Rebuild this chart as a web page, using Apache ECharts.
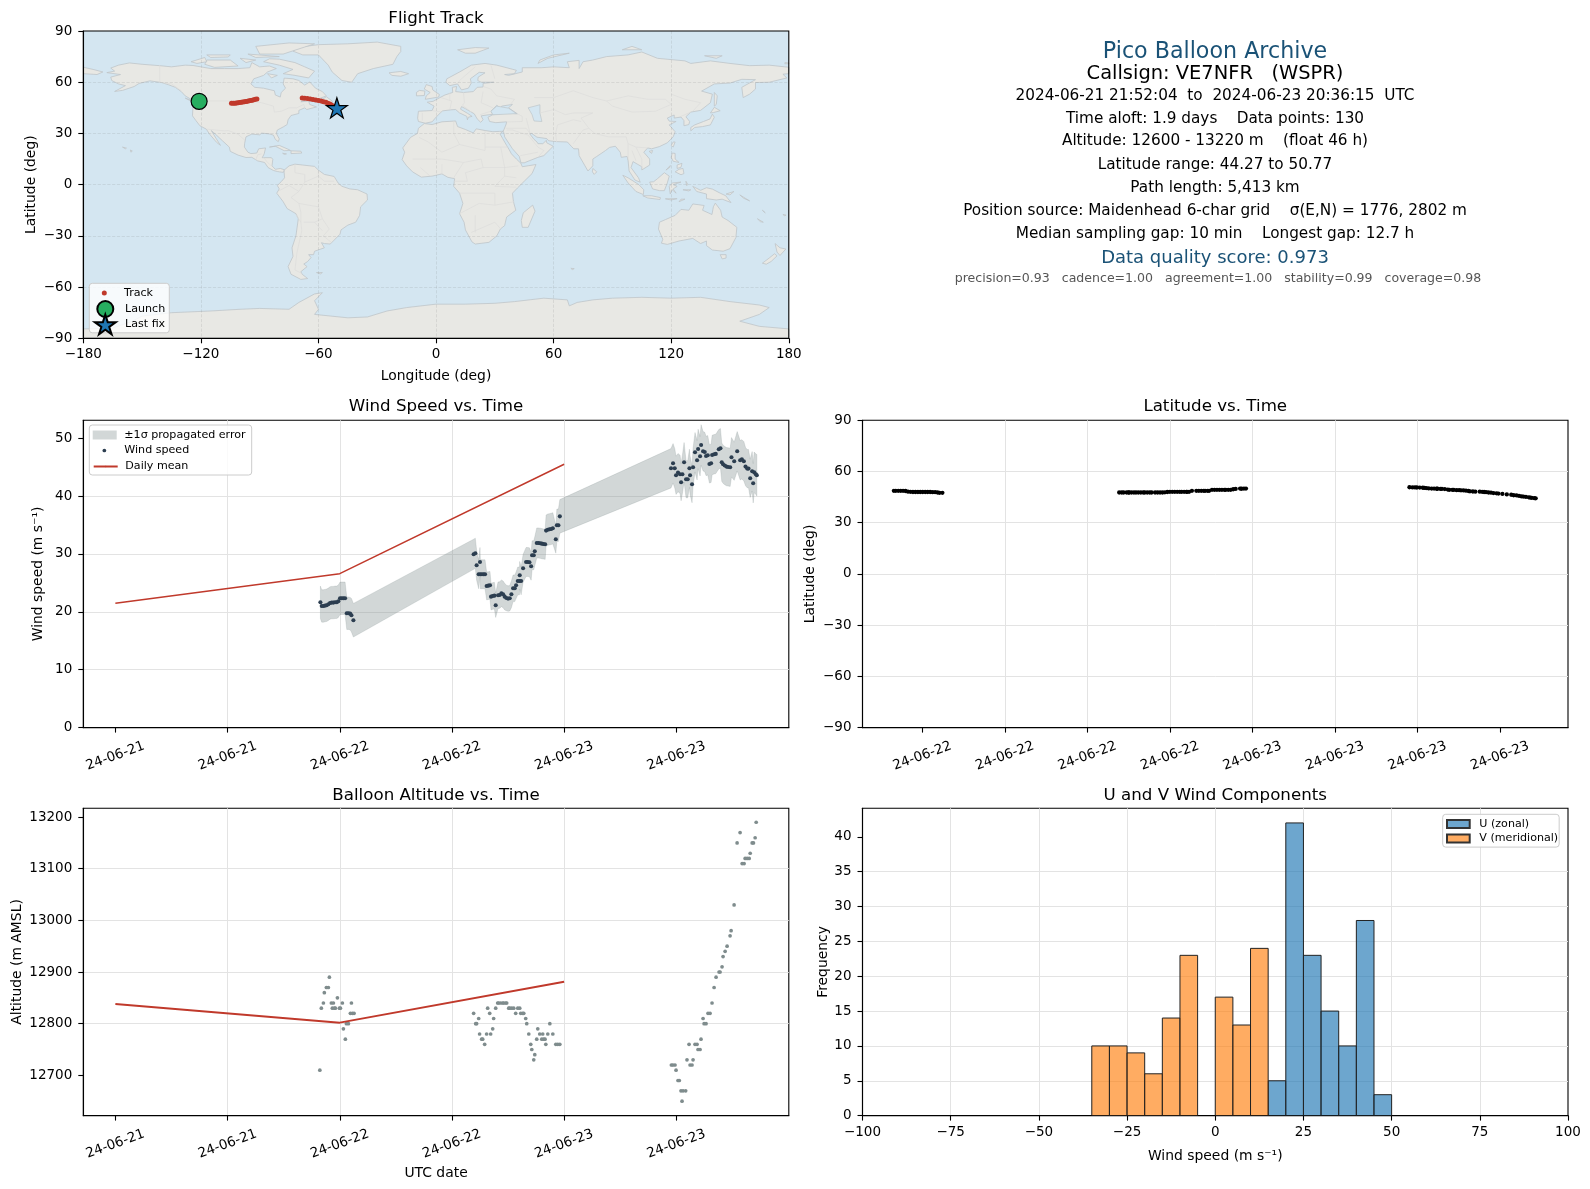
<!DOCTYPE html>
<html><head><meta charset="utf-8">
<style>html,body{margin:0;padding:0;background:#fff}#c{width:1590px;height:1189px}</style>
<script src="https://cdn.jsdelivr.net/npm/echarts@6/dist/echarts.min.js"></script>
</head><body><div id="c"></div>
<script>
// ---------- tick labels ----------
const windTickHours = [0,12,24,36,48,60];
const windTickLabels = ["24-06-21","24-06-21","24-06-22","24-06-22","24-06-23","24-06-23"];
const latTickHours = [24,30,36,42,48,54,60,66];
const latTickLabels = ["24-06-22","24-06-22","24-06-22","24-06-22","24-06-23","24-06-23","24-06-23","24-06-23"];
const windYTicks = [0,10,20,30,40,50];
const altYTicks = [12700,12800,12900,13000,13100,13200];
const histYTicks = [0,5,10,15,20,25,30,35,40];

// ---------- text block ----------
const infoTitle = "Pico Balloon Archive";
const infoCallsign = "Callsign: VE7NFR   (WSPR)";
const infoLines = [
 "2024-06-21 21:52:04  to  2024-06-23 20:36:15  UTC",
 "Time aloft: 1.9 days    Data points: 130",
 "Altitude: 12600 - 13220 m    (float 46 h)",
 "Latitude range: 44.27 to 50.77",
 "Path length: 5,413 km",
 "Position source: Maidenhead 6-char grid    σ(E,N) = 1776, 2802 m",
 "Median sampling gap: 10 min    Longest gap: 12.7 h"];
const infoScore = "Data quality score: 0.973";
const infoSub = "precision=0.93   cadence=1.00   agreement=1.00   stability=0.99   coverage=0.98";

// ---------- time series (hours after 2024-06-21 00:00 UTC) ----------
const windHours = [21.93,22.07,22.25,22.43,22.6,22.78,22.96,23.14,23.32,23.5,23.68,23.85,24.03,24.21,24.39,24.57,24.75,24.93,25.11,25.25,25.46,
 38.32,38.5,38.64,38.86,39.0,39.04,39.21,39.39,39.54,39.71,39.89,40.07,40.18,40.36,40.54,40.68,40.93,41.11,41.29,41.47,41.64,41.82,42.0,42.18,42.36,42.54,42.72,42.86,43.04,43.22,43.25,43.4,43.61,43.93,44.11,44.29,44.47,44.57,44.75,44.86,45.07,45.25,45.43,45.61,45.79,45.97,46.07,46.25,46.43,46.61,46.79,47.11,47.22,47.39,47.54,
 59.43,59.65,59.83,59.97,60.18,60.4,60.51,60.65,60.83,61.04,61.22,61.4,61.47,61.68,61.79,62.0,62.22,62.33,62.54,62.65,62.86,63.04,63.18,63.36,63.54,63.72,63.83,64.04,64.22,64.54,64.72,64.86,65.0,65.18,65.36,65.54,65.76,65.9,66.19,66.51,66.83,67.01,67.22,67.4,67.58,67.72,67.9,68.11,68.22,68.33,68.51,68.61];
const windSpeed = [21.65,21.02,21.02,21.08,21.14,21.31,21.54,21.6,21.6,21.65,21.65,21.83,22.35,22.35,22.35,22.35,19.76,19.76,19.7,19.41,18.55,
 29.95,30.12,28.05,26.49,28.62,26.49,26.49,26.49,26.49,24.47,24.53,24.59,22.63,22.74,22.8,21.14,22.86,22.92,23.2,23.03,22.63,22.4,22.29,22.35,23.03,24.07,24.07,24.59,25.34,25.34,26.32,25.34,27.53,28.62,28.62,28.56,27.87,29.77,29.77,30.46,31.9,31.9,31.85,31.79,31.73,31.67,34.04,34.2,34.27,34.33,34.44,32.54,34.96,34.96,36.5,
 44.81,45.67,44.81,43.6,44.06,43.77,42.39,43.77,45.86,42.91,42.91,44.81,43.6,42.05,44.98,47.58,46.19,48.15,46.88,48.84,47.75,47.63,46.94,47.06,45.56,45.67,47.11,47.23,47.29,48.1,48.27,45.86,45.51,45.28,45.1,45.04,44.98,46.71,46.02,47.75,46.19,46.36,46.02,45.1,44.75,44.75,43.08,44.29,42.22,44.11,43.77,43.6];
const windSigma = [2.8,2.8,2.8,2.8,2.8,2.8,2.8,2.8,2.8,2.8,2.8,2.8,2.8,2.8,2.8,2.8,2.8,2.8,2.8,2.9,2.9,
 2.6,2.6,2.6,2.5,2.5,2.5,2.5,2.5,2.5,2.4,2.4,2.4,2.3,2.3,2.3,2.1,2.3,2.3,2.3,2.3,2.3,2.2,2.2,2.2,2.3,2.3,2.3,2.3,2.4,2.4,2.4,2.4,2.4,2.5,2.5,2.5,2.4,2.5,2.5,2.5,2.6,2.6,2.6,2.6,2.6,2.6,2.7,2.7,2.7,2.7,2.7,2.4,2.8,2.8,2.9,
 3.4,3.4,3.4,3.3,3.3,3.3,3.2,3.3,3.4,3.2,3.2,3.3,3.3,3.2,3.3,3.4,3.4,3.4,3.4,3.5,3.4,3.4,3.4,3.4,3.3,3.3,3.4,3.4,3.4,3.4,3.4,3.3,3.3,3.3,3.3,3.3,3.3,3.4,3.3,3.4,3.4,3.4,3.4,3.3,3.3,3.3,3.3,3.4,3.4,3.5,3.5,3.6];
const latitude = [48.7,48.7,48.7,48.7,48.7,48.6,48.2,48.1,48.0,48.0,48.0,48.0,48.0,48.0,48.0,48.0,47.9,47.9,47.7,47.5,47.5,
 47.7,47.7,47.7,47.7,47.7,47.7,47.7,47.7,47.7,47.7,47.7,47.7,47.7,47.7,47.7,47.7,47.7,47.7,47.7,47.7,47.8,48.0,48.1,48.1,48.1,48.1,48.1,48.1,48.1,48.1,48.1,48.1,48.7,48.7,48.7,48.7,48.7,48.7,48.7,48.7,49.3,49.3,49.3,49.3,49.3,49.3,49.3,49.3,49.3,49.6,49.8,50.0,49.9,50.0,50.0,
 50.77,50.7,50.7,50.65,50.6,50.5,50.4,50.3,50.1,50.0,50.0,49.9,49.9,49.8,49.8,49.7,49.4,49.3,49.3,49.2,49.1,49.1,49.0,48.9,48.8,48.6,48.4,48.3,48.2,48.2,48.1,48.0,47.9,47.7,47.6,47.4,47.2,47.1,46.9,46.6,46.4,46.1,46.0,45.7,45.4,45.3,45.1,44.9,44.7,44.6,44.4,44.27];
const altHours = [21.87,22.03,22.25,22.35,22.57,22.78,22.89,23.1,23.21,23.32,23.43,23.53,23.75,23.96,24.07,24.28,24.39,24.6,24.71,24.93,25.14,25.25,25.36,25.53,
 38.32,38.54,38.64,38.86,38.96,39.18,39.29,39.5,39.71,39.82,40.04,40.14,40.36,40.46,40.68,40.89,41.0,41.21,41.43,41.54,41.75,41.86,42.07,42.18,42.39,42.61,42.82,43.04,43.25,43.36,43.57,43.68,43.89,44.0,44.22,44.43,44.54,44.75,44.86,45.07,45.18,45.39,45.61,45.71,45.82,45.96,46.04,46.25,46.47,46.79,47.11,47.32,47.54,
 59.47,59.64,59.86,59.97,60.18,60.32,60.5,60.61,60.72,61.0,61.14,61.36,61.47,61.68,61.79,62.0,62.22,62.32,62.54,62.64,62.86,62.97,63.18,63.39,63.61,63.82,64.04,64.25,64.57,64.68,64.89,65.0,65.22,65.43,65.75,65.86,66.18,66.5,66.82,67.04,67.25,67.36,67.57,67.79,67.9,68.11,68.25,68.43,68.54];
const altitude = [12710,12830,12840,12860,12870,12870,12890,12840,12830,12840,12830,12830,12850,12830,12830,12840,12790,12770,12800,12800,12820,12840,12820,12820,
 12820,12800,12800,12810,12780,12770,12770,12760,12780,12830,12820,12780,12790,12810,12830,12840,12840,12840,12840,12840,12840,12840,12830,12830,12830,12830,12820,12830,12830,12820,12820,12820,12810,12800,12780,12760,12750,12730,12740,12770,12790,12780,12770,12780,12770,12770,12760,12780,12800,12780,12760,12760,12760,
 12720,12720,12720,12710,12690,12690,12670,12650,12670,12670,12730,12760,12720,12720,12730,12760,12760,12750,12750,12770,12810,12800,12800,12820,12820,12840,12870,12890,12900,12900,12910,12930,12940,12950,12970,12980,13030,13150,13170,13110,13110,13120,13120,13120,13130,13150,13150,13160,13190];
const dailyHours = [0,24,48];
const dailyWind = [21.5,26.6,45.5];
const dailyAlt = [12838,12802,12881];

// ---------- histogram ----------
const uBinStart = [15,20,25,30,35,40,45];
const uCounts = [5,42,23,15,10,28,3];
const vBinStart = [-35,-30,-25,-20,-15,-10,0,5,10];
const vCounts = [10,10,9,6,14,23,17,13,24];
const binWidth = 5;

// ---------- map track ----------
const trackLon = [-121.6,-121,-120.4,-119.8,-119.2,-118.6,
 -104.4,-103.5,-102.6,-101.8,-101,-100.2,-99.4,-98.6,-97.8,-97,-96.2,-95.4,-94.6,-93.8,-93,-92.2,-91.4,
 -68.3,-67,-65.6,-64.2,-62.8,-61.4,-60,-58.6,-57.4,-56.2,-55.2,-54.2,-53.4,-52.6,-51.8,-51];
const trackLat = [48.7,48.6,48.2,48,47.9,47.5,
 47.7,47.7,47.7,47.8,47.9,48.1,48.2,48.4,48.6,48.7,48.9,49.1,49.3,49.5,49.7,50,50.2,
 50.77,50.6,50.4,50.1,49.9,49.6,49.3,49,48.6,48.2,47.7,47.2,46.6,46,45.4,44.8];
const launchPoint = [-120.9,48.8];
const lastFixPoint = [-50.6,44.27];

// ---------- land outlines, [lon, lat] ----------
const land = [
 [[-168,65.6],[-164,66.5],[-166,68.3],[-162,70],[-156.5,71.3],[-150,70.5],[-141,69.7],[-135,69],[-128,70],[-124,69.8],[-115,68],[-108,68],[-101,68],[-95,68.5],[-94,71.5],[-90,69],[-85,69.5],[-81.5,68],[-86,66],[-88,64],[-93,62],[-94.5,59],[-92.5,57],[-88,56.5],[-82.5,55],[-82,52.5],[-79.5,51.3],[-79,54],[-76.8,56.5],[-78,59],[-77.5,62.4],[-73,62],[-70,61],[-67,58.3],[-64.5,60.2],[-61.5,56.5],[-58,54.5],[-56,52],[-60,50.2],[-66,50.2],[-69,48.5],[-65,49],[-64.5,47],[-61,45.5],[-66,44],[-67,45],[-70,43.5],[-70,41.7],[-74,40.5],[-75.5,38],[-76,35.2],[-78,33.8],[-81,32],[-81.5,30],[-80,26.8],[-80.5,25.2],[-82,26.5],[-83,29],[-85,29.7],[-89,30.2],[-90,29.2],[-94,29.6],[-97,28],[-97.7,24],[-97.8,22],[-96,19],[-94.5,18.2],[-91.5,18.5],[-90.5,21],[-87,21.5],[-87.7,18],[-88.7,15.8],[-84,15.8],[-83.3,14.8],[-83.7,11],[-82,9],[-79.5,9.5],[-77.3,8.7],[-77.9,7.2],[-80,7.5],[-81,7.7],[-83,8.3],[-85.7,10],[-87.5,13],[-91,13.9],[-94,16],[-97,15.9],[-101,17.3],[-105,19.5],[-105.5,22],[-109,25.7],[-112.5,29.5],[-114.7,31.7],[-112.2,27],[-110,23],[-112,24.8],[-115.7,29.8],[-117.2,32.5],[-120.5,34.5],[-122.5,37.5],[-124.3,40.3],[-124,46],[-122.5,48.3],[-125,50],[-128,52],[-130,54.5],[-133,57],[-136.5,58.5],[-140,59.8],[-146,60.8],[-151.5,59.3],[-154,57.5],[-160,55.2],[-164,54.6],[-158.5,58],[-162,59],[-165.5,61],[-166,63],[-161,64.5]],
 [[-73,78.2],[-68,76],[-60,76],[-55,70],[-53,66],[-48,61],[-43,60],[-40,65],[-32,68],[-22,70.5],[-20,75],[-18,78],[-18,81],[-30,83.5],[-45,82.5],[-60,82],[-70,80.5]],
 [[-80,73.5],[-72,71.5],[-67,69],[-62,66.5],[-65,62.5],[-72,64],[-78,65],[-73,67.5],[-80,70],[-88,72],[-85,73.7]],
 [[-117,73],[-105,73],[-101,69.5],[-113,68.7],[-118,70.5]],
 [[-90,76.5],[-78,76.5],[-62,82.5],[-75,83],[-92,81]],
 [[-125,72],[-118,74.5],[-117,72],[-122,71]],
 [[-96,76.5],[-80,75],[-92,74.5]],
 [[-117,76],[-105,76],[-106,74.8],[-115,74.5]],
 [[-100,74],[-92,73],[-97,71.5]],
 [[-86,65],[-81,64],[-84,62.5]],
 [[-59,47.8],[-53,46.8],[-53,49],[-56,51.5],[-58,50]],
 [[-128,50.7],[-124,49],[-123.5,48.4],[-126,49.5]],
 [[-85,22],[-80,23],[-75,20.5],[-74.2,20],[-77.5,19.9],[-82,22.5]],
 [[-74,19.8],[-69,19.6],[-68.5,18.5],[-74,18.2]],
 [[-78.3,18.4],[-76.3,18],[-77.5,17.8]],
 [[-156,20.3],[-155,19.7],[-155.7,19]],
 [[-160,22],[-158,21.4],[-158.5,21]],
 [[-77.5,8.5],[-75,11],[-72,12],[-68,11.5],[-62,10.7],[-60,8.5],[-57,6],[-52,4.8],[-50,1],[-48,-1],[-44,-2.5],[-40,-3],[-35.2,-5.5],[-35,-9],[-38.5,-13],[-39,-18],[-41,-22],[-45,-23.7],[-48.5,-26.5],[-49,-29],[-52,-32.5],[-54,-34.8],[-57,-34.5],[-58.5,-34],[-57,-37],[-62,-39],[-62.5,-41],[-65,-41],[-63.8,-42.7],[-65.5,-45],[-67.5,-46.5],[-65.8,-48],[-69,-51],[-68.3,-52.5],[-65.5,-55],[-69,-55.5],[-74,-52.5],[-75.5,-48],[-73,-42],[-73.5,-37],[-71.5,-30],[-70.3,-20],[-71.5,-17],[-76,-14],[-78,-10],[-81.3,-5],[-80,-2.5],[-81,-0.5],[-78.8,2],[-77.3,4],[-77.5,7]],
 [[-61,-51.5],[-58,-51.5],[-59,-52.3]],
 [[-6,35.8],[-2,35.2],[3,36.8],[10,37.3],[11,34],[15,32.3],[19,30.3],[20.5,32.7],[25,31.7],[29,31],[32.5,31.2],[34.3,31.3],[32.6,29.8],[34,27],[36,23],[37.3,20.5],[38.5,18],[41,15],[43.3,12.5],[44,10.5],[51,11.8],[49,6.5],[45,2],[41.5,-2],[39,-5],[39.5,-10],[40.7,-15],[36,-19],[35,-24],[32.8,-26],[31,-30],[27,-33.8],[20,-34.8],[18.3,-33.5],[15,-26.5],[14.3,-22],[12,-17],[13.7,-11],[12,-5],[9,-1],[9.5,3.5],[6,4.3],[3,6.3],[-2,5],[-7.5,4.4],[-12,7.5],[-15,11],[-17.3,14.7],[-16,19],[-17,21.5],[-13,27.7],[-9.5,30],[-9,33]],
 [[-9,37],[-9.4,39],[-9,43],[-2,43.4],[-1,46],[-4.5,48.3],[-1.5,48.8],[2,51],[4.5,52.5],[8.5,54],[8.3,57],[10.5,57.5],[10,54.5],[14,54],[19,54.5],[21,57],[24,57.2],[24,59.3],[29.5,60],[23,60],[21.3,61],[21.5,63],[25,65.5],[22,65.8],[17.5,62],[18,59.5],[16.5,56.5],[13,55.5],[11,59],[7,58],[5,60],[5.5,62],[12,66],[18,70],[25,71],[31,70],[41,67],[40,65],[35,64.5],[37,64],[44,66],[44,68.5],[54,68.5],[60,69],[68,68.5],[67,72],[73,72.8],[73,68],[75,72],[80,73],[87,75],[98,76],[105,77.7],[113,74],[127,72.5],[130,71],[140,72.5],[150,71],[160,69.7],[170,70],[178,69],[180,68.8],[180,65],[177,64.7],[179,62.5],[170,60],[163,59.8],[163,56],[160,53],[156.7,51],[156,57],[163,61.5],[156,61.7],[150,59.5],[142,59],[135.5,54.8],[141,53],[140,48],[135,43.5],[130,42.5],[127.5,39.8],[129.4,37],[129,35.2],[126.5,34.5],[126.5,37.5],[125,39.6],[121.5,39],[121.5,40.8],[118,39],[119,37.2],[122.5,37],[119,35],[122,31],[121,28],[118,24.5],[114,22.3],[110,21],[108,21.5],[106,19],[109,15],[109,11.5],[105,8.6],[105,10.5],[100.5,13.5],[99.5,10],[103.3,4],[104.2,1.4],[101.5,2.7],[98.5,8],[98,14],[97.5,16.5],[94.5,16],[94,19],[91.5,22.5],[88.5,21.8],[86.5,20],[82,16.5],[80,15],[80,11],[77.5,8],[76,11],[73,17],[72.7,21],[70.3,21],[69,22.5],[67,25],[61.5,25.2],[57.5,25.7],[56.5,27],[51.5,27.8],[48.8,30],[47.8,29.8],[50,26.5],[51.5,25],[52,24],[54.5,24],[56.3,26],[56.5,24.5],[59.8,22.5],[55,17],[52,16],[45,12.8],[43.3,12.8],[42.5,16.5],[39,21],[35,28],[34.8,29.5],[34.3,31.3],[35.8,35.5],[36,36.8],[30.5,36.3],[27.3,37],[26.5,39.5],[29,41],[35,42],[41.5,41.5],[37,45],[39,47],[33.5,46],[33,44.5],[31,46.5],[28,43],[29,41.2],[26,40.8],[23,40.3],[24,38],[22.8,36.5],[21,38.5],[19.5,41.5],[15,44.5],[13,45.7],[12.5,44.2],[16,41.8],[18.4,40],[16.5,39.5],[16,38],[15.7,40],[12,42],[10,44],[7.5,43.8],[3.2,43.2],[0,39.5],[-2,36.8],[-5.5,36]],
 [[-180,68.8],[-175,67.5],[-170,66],[-173,64.5],[-180,65]],
 [[-5.5,50],[1.3,51.3],[1.7,52.8],[-1.7,55.5],[-2,57.5],[-5,58.6],[-6,56],[-3,54],[-5,52]],
 [[-10,52],[-6,52.2],[-5.7,54.8],[-8.5,55.2],[-10,54]],
 [[-24,65.5],[-18,66.3],[-14,65],[-18,63.5],[-22.5,64]],
 [[11,79],[20,80.3],[27,80],[20,77],[15,77]],
 [[52,71],[57,74],[68,77],[60,76],[53,73]],
 [[95,79],[105,79],[100,81]],
 [[137,75.5],[146,75.5],[143,74]],
 [[178,71.5],[180,71.3],[180,70.8],[178,70.8]],
 [[142,54],[143.5,52],[143,47],[142,46],[142,50]],
 [[130,31.5],[132,33.5],[136,34],[140,35],[142,39.5],[141,41.3],[139.8,38.5],[136.5,37],[132,35],[130,33.5]],
 [[140,42],[142,45.3],[145,43.3],[141.5,42.2]],
 [[120,23],[121,25],[122,25],[121,22]],
 [[108.7,19.5],[110.5,20],[110,18.3]],
 [[80,9.5],[82,7.5],[80.7,6],[79.8,7.5]],
 [[120,16],[120.5,18.5],[122,18.3],[122,15],[124,13],[121,13.7]],
 [[122,7.5],[124,9],[126,9.5],[126.5,6.5],[125,5.8]],
 [[123,11.5],[125.5,12.5],[125,10.2],[123,9.5]],
 [[117.3,8.5],[119.5,11.2],[119.3,10.2]],
 [[109,1.5],[111,1.7],[113,3.5],[116.5,7],[119,5],[118,1],[116.5,-3.5],[114,-3.5],[110.5,-2.5]],
 [[95.3,5.5],[98,4],[103.5,0],[106,-3],[105.8,-5.8],[102,-4],[98,1]],
 [[105.5,-6.5],[110,-6.5],[114.5,-7.6],[114.3,-8.7],[108,-7.8]],
 [[119.5,-5.5],[119,-1],[120.5,1],[125,1.5],[121,0],[123,-1],[121,-2.5],[122.5,-5],[120.5,-3]],
 [[127.5,2],[128.5,0],[127.8,-0.5]],
 [[126,-3],[130,-3],[129,-3.7]],
 [[117,-8.3],[123,-8.2],[120,-9]],
 [[131,-1],[135,-3.3],[138,-1.8],[141,-2.6],[145,-5],[147.8,-6.5],[150.5,-10.5],[146,-8.5],[143,-9],[138,-8.2],[138,-5.5],[133,-4]],
 [[124,-10],[127,-8.5],[125,-8.5]],
 [[148,-5.5],[152,-4],[150,-6]],
 [[155,-6],[160,-9.5],[157,-8]],
 [[166.5,-15],[168,-16.5],[167,-15.5]],
 [[164,-20],[167,-22],[165.5,-21.7]],
 [[177,-17.5],[178.6,-17.8],[178,-18.3]],
 [[114,-22],[113.5,-26],[115.7,-32],[115,-34.3],[118,-35],[124,-33],[131,-31.5],[135,-34.5],[138,-33],[138,-35.7],[141,-38.3],[146.5,-39],[150,-37.5],[153,-31],[153.5,-25],[149,-21],[146,-19],[145.2,-15],[142.5,-10.8],[141.5,-13],[140.8,-17.5],[136,-15],[136.8,-12.2],[131,-11.3],[129,-15],[125,-14.5],[122,-18],[117,-20.5]],
 [[145,-41],[148,-41],[148,-43],[146,-43.5]],
 [[173,-34.5],[175.5,-37],[178.5,-37.7],[175.5,-41.5],[174,-39.5]],
 [[172.7,-40.5],[174,-41.7],[171,-45],[168.5,-46.6],[166.5,-46],[170,-43]],
 [[49.3,-12],[50.5,-15.5],[47,-25],[44,-25],[43.5,-21],[44.5,-16.5]],
 [[68.8,-49],[70.5,-49.2],[69.5,-49.8]],
 [[-180,-90],[-180,-84.5],[-165,-84],[-155,-80],[-150,-77],[-135,-75],[-115,-74],[-100,-73],[-90,-72.5],[-75,-73],[-70,-69],[-62,-64],[-58,-63.3],[-62,-68],[-60,-73],[-62,-76],[-45,-78],[-35,-77.5],[-25,-74],[-15,-72],[0,-70],[15,-70],[30,-69.5],[40,-68.5],[55,-66.5],[67,-67.5],[68,-71],[72,-69],[80,-67.5],[90,-66.5],[105,-66],[120,-66.5],[135,-66],[150,-68.5],[165,-70.5],[170,-72],[165,-76],[155,-80],[165,-83],[180,-84.5],[180,-90]]
];
const lakes = [[[47,45],[53,46.8],[53,42],[54,37],[50,37.3],[49,41]],[[29,40.9],[41,41.6],[37,44.8],[31,46],[28,43]]];
const borders = [
 [[-123,49],[-95,49],[-89,48],[-83,46],[-82.5,42.5],[-79,43],[-75,45],[-71,45],[-67.5,47],[-67,45]],
 [[-141,70],[-141,60],[-135,59],[-130,55]],
 [[-117,32.5],[-108,31.5],[-106,31.7],[-101,29.5],[-97.5,26]],
 [[-92,14.5],[-91,17.5],[-89,18]],[[-88,16],[-86,13],[-84,11]],
 [[-60,5],[-67,1.5],[-70,-4],[-74,-7.5],[-70,-11],[-60,-13],[-58,-20],[-54.5,-26],[-57.5,-30],[-53.5,-33.8]],
 [[-71.5,-17.5],[-69,-22],[-68.5,-27],[-71,-40],[-72,-50],[-68.5,-52]],
 [[-70,-11],[-69,-16],[-69,-22]],[[-67.5,-22],[-62,-22],[-58,-27]],[[-62,-22],[-58,-20]],
 [[-80,-3.5],[-75,-0.5],[-70,-4]],[[-72,12],[-72,7],[-67,6],[-67,1.5]],[[-60,8],[-60,5],[-57,2],[-52,2]],
 [[-8.7,27.7],[-4,25],[3,19],[12,23.5],[25,20],[25,31.5]],[[25,22],[36.8,22]],[[9,37],[9,30],[12,23.5]],
 [[-12,15],[-5,15],[3,15],[14,13],[23,15],[24,10],[35,10],[42,11]],[[14,13],[9,4]],[[24,10],[15,7],[16,2],[9,2]],
 [[12,-5],[30,-5],[30,-12],[22,-11],[12,-17]],[[30,-12],[40,-10]],[[18,-28],[30,-22],[33,-26]],[[20,-18],[20,-28]],
 [[35,5],[41,4]],[[30,-1],[41,-1.5]],[[-8,10],[-3,5]],[[3,6],[3,12]],[[33,22],[35,10],[35,5],[30,-1]],
 [[-1.7,43.3],[3,42.5]],[[-7,42],[-7,37.5]],[[2.5,51],[8,49],[7,44]],[[7,54],[7,49]],[[14,54],[14.5,48],[13.5,46.5],[18,42.5]],
 [[24,54.5],[23,48],[29,45]],[[28,43],[22.5,41]],[[24,57.5],[28,56],[31,52],[40,50],[38,47]],[[28,70],[30,62]],[[20,69],[12,61],[11,59]],
 [[50,51],[60,51],[70,55],[80,51],[87,49]],[[87,49],[98,52],[108,50],[117,50],[120,47],[112,43],[100,42.5],[90,46],[87,49]],
 [[120,53],[127,50],[135,48],[131,43]],[[80,42],[74,39],[78,33],[81,30],[88,28],[97,28],[98,24],[102,22],[108,21.5]],
 [[53,42],[60,44],[66,41],[70,42],[80,42]],[[62,35],[61,30],[61.5,25]],[[62,35],[70,38],[74,37]],[[46,39],[48,30]],
 [[35.5,33],[46,33],[48,30]],[[36,32],[39,32],[47,29],[52,22],[55,20],[52,16]],[[43,17],[52,19]],[[125,40],[130,42.5]],
 [[70,24],[75,32],[78,33]],[[98,24],[98,15]],[[102,22],[105,15],[105,10]],[[100,20],[102,14]],[[36,36.7],[44,37],[44,40],[41.5,41.5]]
];

// ---------- helpers ----------
const FONT = '"DejaVu Sans"';
const STAR = 'path://M50 0L61 35L98 35L68 57L79 91L50 70L21 91L32 57L2 35L39 35Z';
const zip = (a,b)=>a.map((v,i)=>[v,b[i]]);
const minus = v=>String(v).replace('-','\u2212');
const GL=83.3, GR=862.5, GW=705.5, GH=307.3, T1=31, T2=420.3, T3=808.3;
const grids = [
 {left:GL,top:T1,width:GW,height:GH,backgroundColor:'#d4e6f1',show:true,borderWidth:0},
 {left:GL,top:T2,width:GW,height:GH,show:true,borderColor:'#000',borderWidth:1.1},
 {left:GR,top:T2,width:GW,height:GH,show:true,borderColor:'#000',borderWidth:1.1},
 {left:GL,top:T3,width:GW,height:GH,show:true,borderColor:'#000',borderWidth:1.1},
 {left:GR,top:T3,width:GW,height:GH,show:true,borderColor:'#000',borderWidth:1.1}
];
const gridLine = {show:true,showMinLine:false,showMaxLine:false,lineStyle:{color:'#e3e3e3',width:1}};
const mapLine = {show:true,showMinLine:false,showMaxLine:false,lineStyle:{color:'rgba(120,120,120,0.2)',width:0.8,type:'dashed'}};
const baseAxis = (o,isY)=>Object.assign({type:'value',scale:false,
  axisLine:{show:true,onZero:false,lineStyle:{color:'#000',width:1.1}},
  axisTick:{show:true,length:5,lineStyle:{color:'#000',width:1.1}},
  axisLabel:Object.assign({color:'#000',fontFamily:FONT,fontSize:13.5,margin:isY?11:9.5,hideOverlap:false,showMinLabel:true,showMaxLabel:true,formatter:minus},isY?{padding:[4,0,0,0]}:{}),
  splitLine:gridLine,
  nameLocation:'middle',nameTextStyle:{color:'#000',fontFamily:FONT,fontSize:13.9}},o);
function timeAxis(gridIndex,min,max,ticks,labels,name){
  const a = baseAxis({gridIndex,min,max,name:name||'',nameGap:51});
  a.axisTick = Object.assign({},a.axisTick,{customValues:ticks});
  a.axisLabel = Object.assign({},a.axisLabel,{customValues:ticks,rotate:20,align:'center',verticalAlign:'middle',margin:28.5,
     formatter:v=>labels[ticks.indexOf(v)]});
  a.splitLine = Object.assign({},gridLine,{customValues:ticks});
  return a;
}
function customY(gridIndex,min,max,ticks,name,gap){
  const a = baseAxis({gridIndex,min,max,name,nameGap:gap},true);
  a.axisTick = Object.assign({},a.axisTick,{customValues:ticks});
  a.axisLabel = Object.assign({},a.axisLabel,{customValues:ticks});
  a.splitLine = Object.assign({},gridLine,{customValues:ticks});
  return a;
}
function polySeries(name,polys,xi,style,z){
  return {type:'custom',name,xAxisIndex:xi,yAxisIndex:xi,z,silent:true,clip:true,
    data:polys.map((p,i)=>[p[0][0],p[0][1],i]),encode:{x:0,y:1},
    renderItem:(params,api)=>({type:'polygon',shape:{points:polys[params.dataIndex].map(q=>api.coord(q))},style})};
}
function lineSet(name,lines,style,z){
  return {type:'custom',name,xAxisIndex:0,yAxisIndex:0,z,silent:true,clip:true,
    data:lines.map((p,i)=>[p[0][0],p[0][1],i]),encode:{x:0,y:1},
    renderItem:(params,api)=>({type:'polyline',shape:{points:lines[params.dataIndex].map(q=>api.coord(q))},style})};
}
function histSeries(name,starts,counts,fill){
  return {type:'custom',name,xAxisIndex:4,yAxisIndex:4,z:3,silent:true,clip:true,
    itemStyle:{color:fill,borderColor:'#333',borderWidth:1},
    data:starts.map((s,i)=>[s,s+binWidth,counts[i]]),encode:{x:[0,1],y:2},
    renderItem:(params,api)=>{
      const a=api.coord([api.value(0),api.value(2)]), b=api.coord([api.value(1),0]);
      return {type:'rect',shape:{x:a[0],y:a[1],width:b[0]-a[0],height:b[1]-a[1]},
        style:{fill,stroke:'#222',lineWidth:1}};
    }};
}
function legendItem(name,left,top,w,h,textShift,icon,itemStyle){
  const d={name}; if(icon)d.icon=icon; if(itemStyle)d.itemStyle=itemStyle;
  return {data:[d],left,top,itemWidth:w,itemHeight:h,padding:0,z:30,orient:'vertical',selectedMode:false,
    textStyle:{color:'#000',fontFamily:FONT,fontSize:11.1,padding:[0,0,0,textShift]}};
}
const bandPoly = windHours.map((t,i)=>[t,windSpeed[i]+windSigma[i]])
  .concat(windHours.map((t,i)=>[t,windSpeed[i]-windSigma[i]]).reverse());
const panelTitle = (text,x,top)=>({text,left:x,top,textAlign:'center',padding:0,
  textStyle:{color:'#000',fontFamily:FONT,fontSize:16.67,fontWeight:'normal'}});
const infoX = 1215;
const infoText = (text,y,size,color,dx)=>({type:'text',x:infoX+(dx||0),y,z:5,style:{text,fill:color,font:size+'px '+FONT,textAlign:'center',textVerticalAlign:'middle'}});
const infoYs = [95.6,119,141.3,164.7,188.1,211.4,233.8];
const BAND = 'rgba(127,140,141,0.35)';

const option = {
 animation:false,backgroundColor:'#fff',textStyle:{fontFamily:FONT},
 title:[panelTitle('Flight Track',GL+GW/2,10),panelTitle('Wind Speed vs. Time',GL+GW/2,398.5),panelTitle('Latitude vs. Time',GR+GW/2,398.5),
        panelTitle('Balloon Altitude vs. Time',GL+GW/2,787),panelTitle('U and V Wind Components',GR+GW/2,787)],
 grid:grids,
 xAxis:[
  baseAxis({gridIndex:0,min:-180,max:180,interval:60,name:'Longitude (deg)',nameGap:31,z:4,splitLine:mapLine}),
  timeAxis(1,-3.43,72.03,windTickHours,windTickLabels),
  timeAxis(2,19.65,70.96,latTickHours,latTickLabels),
  timeAxis(3,-3.43,72.03,windTickHours,windTickLabels,'UTC date'),
  baseAxis({gridIndex:4,min:-100,max:100,interval:25,name:'Wind speed (m s\u207B\u00B9)',nameGap:34})
 ],
 yAxis:[
  baseAxis({gridIndex:0,min:-90,max:90,interval:30,name:'Latitude (deg)',nameGap:45,z:4,splitLine:mapLine},true),
  customY(1,0,53.1,windYTicks,'Wind speed (m s\u207B\u00B9)',38),
  baseAxis({gridIndex:2,min:-90,max:90,interval:30,name:'Latitude (deg)',nameGap:45},true),
  customY(3,12622,13217,altYTicks,'Altitude (m AMSL)',59),
  customY(4,0,44.1,histYTicks,'Frequency',32)
 ],
 legend:[
  legendItem('Track',101.8,287.5,5,5,12.2),
  legendItem('Launch',96.3,300,16,16,6.7),
  legendItem('Last fix',93.8,313.5,21,20,4.2,STAR),
  legendItem('\u00B11\u03C3 propagated error',92.7,429.5,24,9,2.6,'rect',{color:BAND,borderWidth:0}),
  legendItem('Wind speed',102.5,445,3.7,3.7,13.1),
  legendItem('Daily mean',92.7,461,24,2,2.6),
  {data:[{name:'U (zonal)',icon:'rect'},{name:'V (meridional)',icon:'rect'}],left:1442.7,top:814.3,orient:'vertical',itemWidth:22.7,itemHeight:8,itemGap:3.4,padding:[4.2,1,3.2,3.3],z:30,selectedMode:false,
   backgroundColor:'rgba(255,255,255,0.85)',borderColor:'#ccc',borderWidth:1,borderRadius:3,
   textStyle:{color:'#000',fontFamily:FONT,fontSize:11.1,padding:[0,0,0,4.6]}}
 ],
 graphic:[
  {type:'rect',z:20,shape:{x:89.3,y:283.3,width:80,height:49.5,r:3},style:{fill:'rgba(255,255,255,0.8)',stroke:'#ccc',lineWidth:1}},
  {type:'rect',z:20,shape:{x:89.3,y:425,width:162.4,height:50,r:3},style:{fill:'rgba(255,255,255,0.8)',stroke:'#ccc',lineWidth:1}},
  {type:'rect',z:25,shape:{x:GL,y:T1,width:GW,height:GH},style:{fill:'none',stroke:'#000',lineWidth:1.1}},
  infoText(infoTitle,52.3,22.2,'#1a5276'),
  infoText(infoCallsign,74.3,19.44,'#000'),
  ...infoLines.map((s,i)=>infoText(s,infoYs[i],15.28,'#000')),
  infoText(infoScore,258.4,18,'#1a5276'),
  infoText(infoSub,278.3,12.55,'#555',3)
 ],
 series:[
  polySeries('Land',land,0,{fill:'#e8e8e4',stroke:'#bfc5c9',lineWidth:0.8},1),
  polySeries('Lakes',lakes,0,{fill:'#d4e6f1',stroke:'#bfc5c9',lineWidth:0.7},1.5),
  lineSet('Borders',borders,{fill:'none',stroke:'#dddddb',lineWidth:0.7},2),
  {type:'scatter',name:'Track',xAxisIndex:0,yAxisIndex:0,z:5,symbolSize:5,silent:true,itemStyle:{color:'#c0392b',opacity:1},data:zip(trackLon,trackLat)},
  {type:'scatter',name:'Launch',xAxisIndex:0,yAxisIndex:0,z:6,symbolSize:16,silent:true,itemStyle:{color:'#27ae60',borderColor:'#000',borderWidth:1.2,opacity:1},data:[launchPoint]},
  {type:'scatter',name:'Last fix',xAxisIndex:0,yAxisIndex:0,z:7,symbol:STAR,symbolSize:[21,20],symbolOffset:[0,-1.2],silent:true,itemStyle:{color:'#1f77b4',borderColor:'#000',borderWidth:1.2,opacity:1},data:[lastFixPoint]},
  {type:'custom',name:'\u00B11\u03C3 propagated error',xAxisIndex:1,yAxisIndex:1,z:2,silent:true,clip:true,itemStyle:{color:BAND},
   data:[bandPoly[0]],encode:{x:0,y:1},
   renderItem:(p,api)=>({type:'polygon',shape:{points:bandPoly.map(q=>api.coord(q))},style:{fill:BAND,stroke:'rgba(127,140,141,0.2)',lineWidth:1}})},
  {type:'scatter',name:'Wind speed',xAxisIndex:1,yAxisIndex:1,z:4,symbolSize:4.1,silent:true,itemStyle:{color:'#2c3e50',opacity:1},data:zip(windHours,windSpeed)},
  {type:'line',name:'Daily mean',xAxisIndex:1,yAxisIndex:1,z:3,symbol:'none',silent:true,lineStyle:{color:'#c0392b',width:1.5},itemStyle:{color:'#c0392b'},data:zip(dailyHours,dailyWind)},
  {type:'scatter',name:'Latitude',xAxisIndex:2,yAxisIndex:2,z:4,symbolSize:4.3,silent:true,itemStyle:{color:'#000',opacity:1},data:zip(windHours,latitude)},
  {type:'scatter',name:'Altitude',xAxisIndex:3,yAxisIndex:3,z:4,symbolSize:3.7,silent:true,itemStyle:{color:'#7f8c8d',opacity:1},data:zip(altHours,altitude)},
  {type:'line',name:'Daily mean altitude',xAxisIndex:3,yAxisIndex:3,z:5,symbol:'none',silent:true,lineStyle:{color:'#c0392b',width:2},itemStyle:{color:'#c0392b'},data:zip(dailyHours,dailyAlt)},
  histSeries('U (zonal)',uBinStart,uCounts,'rgba(31,119,180,0.65)'),
  histSeries('V (meridional)',vBinStart,vCounts,'rgba(255,127,14,0.65)')
 ]
};
const chart = echarts.init(document.getElementById('c'),null,{renderer:'canvas',width:1590,height:1189});
chart.setOption(option);
</script></body></html>
